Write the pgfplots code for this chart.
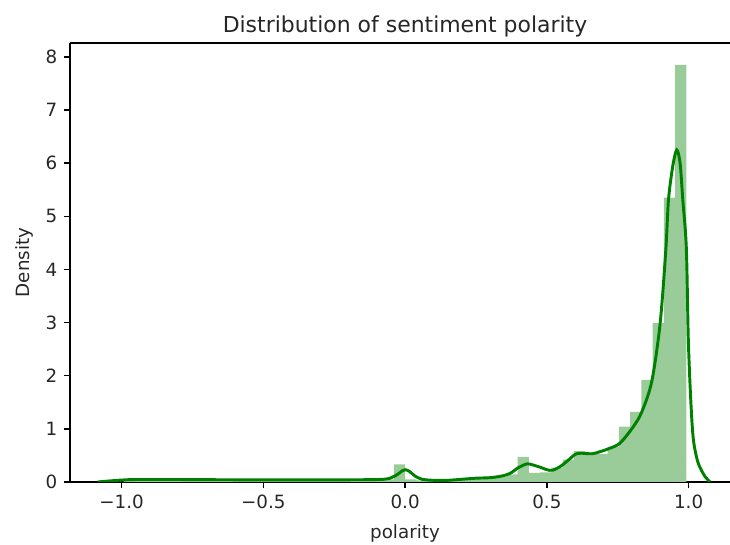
\documentclass[border=0pt]{standalone}
\usepackage{fontspec}
\setmainfont{DejaVu Sans}
\usepackage{pgfplots}
\pgfplotsset{compat=1.18}
\definecolor{histg}{HTML}{99CC99}
\definecolor{kdeg}{HTML}{008000}
\definecolor{txt}{HTML}{262626}
\begin{document}
\begin{tikzpicture}
\begin{axis}[
  scale only axis, width=361pt, height=240.1pt,
  xmin=-1.182, xmax=1.146, ymin=0, ymax=8.264,
  axis x line*=box, axis y line*=left,
  xtick={-1,-0.5,0,0.5,1}, xticklabels={−1.0,−0.5,0.0,0.5,1.0},
  ytick={0,1,2,3,4,5,6,7,8}, yticklabels={0,1,2,3,4,5,6,7,8},
  tick align=outside, xtick pos=bottom, ytick pos=left,
  major tick length=3.5pt,
  every tick/.style={black, line width=0.8pt},
  axis line style={line width=0.8pt, black},
  tick label style={font=\fontsize{10}{12}\selectfont, text=txt},
  title={Distribution of sentiment polarity},
  every axis title/.style={at={(axis description cs:0.5076,1.0229)}, anchor=base, font=\fontsize{12}{14}\selectfont, text=txt},
  xlabel={polarity},
  xlabel style={at={(axis description cs:0.5076,-0.13)}, anchor=base, font=\fontsize{10}{12}\selectfont, text=txt},
  ylabel={Density},
  ylabel style={at={(axis description cs:-0.0607,0.5)}, anchor=base, font=\fontsize{10}{12}\selectfont, text=txt},
]
\addplot[ybar interval, fill=histg, draw=none] coordinates {
(-0.9925,0.05) (-0.9528,0.04) (-0.9131,0.045) (-0.8734,0.04) (-0.8337,0.04)
(-0.7940,0.035) (-0.7543,0.04) (-0.7146,0.04) (-0.6749,0.035) (-0.6352,0.04)
(-0.5955,0.04) (-0.5558,0.035) (-0.5161,0.04) (-0.4764,0.035) (-0.4367,0.04)
(-0.3970,0.04) (-0.3573,0.035) (-0.3176,0.04) (-0.2779,0.035) (-0.2382,0.04)
(-0.1985,0.04) (-0.1588,0.04) (-0.1191,0.045) (-0.0794,0.05) (-0.0397,0.33)
(0.0000,0.05) (0.0397,0.03) (0.0794,0.03) (0.1191,0.035) (0.1588,0.045)
(0.1985,0.055) (0.2382,0.065) (0.2779,0.075) (0.3176,0.09) (0.3573,0.14)
(0.3970,0.47) (0.4367,0.17) (0.4764,0.18) (0.5161,0.27) (0.5558,0.42)
(0.5955,0.58) (0.6352,0.55) (0.6749,0.53) (0.7146,0.66) (0.7543,1.04)
(0.7940,1.32) (0.8337,1.92) (0.8734,2.99) (0.9131,5.35) (0.9528,7.85)
(0.9925,0)
};
\addplot[kdeg, line width=1.6pt, smooth, tension=0.5] coordinates {
(-1.083,0.0) (-1.05,0.015) (-1.0,0.035) (-0.95,0.045) (-0.8,0.045) (-0.6,0.04)
(-0.4,0.04) (-0.2,0.04) (-0.1,0.045) (-0.06,0.06) (-0.03,0.13) (-0.01,0.21)
(0.0,0.23) (0.015,0.2) (0.035,0.11) (0.06,0.05) (0.1,0.03) (0.15,0.03)
(0.2,0.05) (0.25,0.07) (0.3,0.08) (0.34,0.11) (0.37,0.16) (0.4,0.27)
(0.43,0.34) (0.45,0.32) (0.48,0.27) (0.5,0.23) (0.52,0.22) (0.55,0.3)
(0.58,0.43) (0.6,0.52) (0.62,0.54) (0.66,0.53) (0.688,0.57) (0.72,0.63)
(0.758,0.73) (0.805,1.04) (0.835,1.32) (0.87,1.89) (0.8995,2.98) (0.9196,4.37)
(0.929,5.31) (0.944,5.94) (0.958,6.25) (0.97,6.0) (0.9795,5.31) (0.992,4.4)
(0.999,2.67) (1.008,1.5) (1.017,0.79) (1.0335,0.36) (1.058,0.1) (1.076,0.0)
};
\end{axis}
\pgfresetboundingbox
\path[use as bounding box] (current axis.south west) ++(-38.3pt,-34.5pt) rectangle ([yshift=23.5pt]current axis.north east);
\end{tikzpicture}
\end{document}
